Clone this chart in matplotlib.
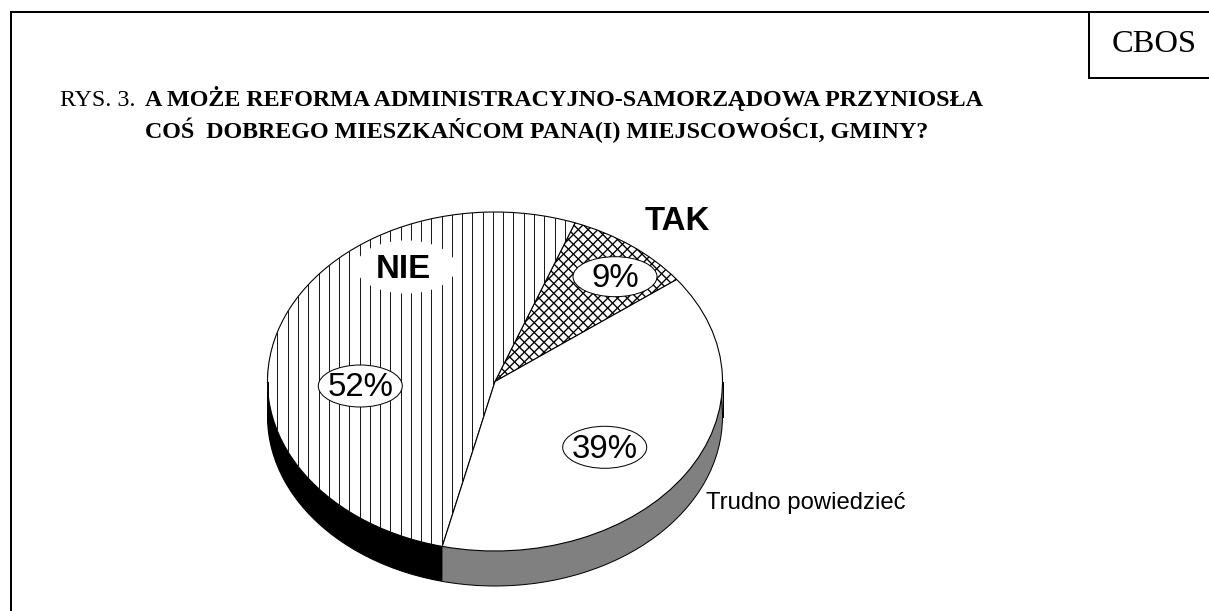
import matplotlib
matplotlib.use("Agg")
import matplotlib.pyplot as plt
import numpy as np
from matplotlib.patches import Ellipse

# Data
categories = ["TAK", "NIE", "Trudno powiedzieć"]
values = [9, 52, 39]
pct_labels = ["9%", "52%", "39%"]
title_prefix = "RYS. 3."
title_line1 = "A MOŻE REFORMA ADMINISTRACYJNO-SAMORZĄDOWA PRZYNIOSŁA"
title_line2 = "COŚ  DOBREGO MIESZKAŃCOM PANA(I) MIEJSCOWOŚCI, GMINY?"
source = "CBOS"

# Style / layout
W, H, DPI = 1209, 611, 100
pt = 72 / DPI  # one pixel in points
SERIF, SANS = "Liberation Serif", "Liberation Sans"
face = ["white", "white", "white"]
wall = ["#808080", "black", "#808080"]
START = 37
CX, CY, RX, RY, DEPTH = 495, 381.5, 227.5, 169.5, 35
STRIPE_STEP, STRIPE_PHASE = 10.26, 349.3
CROSS_STEP = 9.8

fig = plt.figure(figsize=(W / DPI, H / DPI), dpi=DPI, facecolor="white")

# Pie axes: unit circle stretched into the perspective ellipse
pax = fig.add_axes([(CX - RX) / W, 1 - (CY + RY) / H, 2 * RX / W, 2 * RY / H])
d = DEPTH / RY
for i in range(DEPTH, 0, -1):
    pax.pie(values, colors=wall, startangle=START, radius=1, center=(0, -d * i / DEPTH),
            wedgeprops=dict(linewidth=0, edgecolor="none", clip_on=False))
pax.pie([1], colors=["none"], center=(0, -d),
        wedgeprops=dict(linewidth=1.0 * pt, edgecolor="black", clip_on=False))
pax.plot([1, 1], [0, -d], color="black", lw=1.0 * pt, clip_on=False)
pax.plot([-1, -1], [0, -d], color="black", lw=1.0 * pt, clip_on=False)
wedges, _ = pax.pie(values, colors=face, startangle=START, radius=1,
                    wedgeprops=dict(linewidth=1.1 * pt, edgecolor="black", clip_on=False))
pax.set_aspect("auto")
pax.set_xlim(-1, 1)
pax.set_ylim(-1, 1)

# Overlay in pixel coordinates for hatching, frame and text
ax = fig.add_axes([0, 0, 1, 1], facecolor="none")
ax.set_xlim(0, W)
ax.set_ylim(H, 0)
ax.axis("off")

# Hatching: vertical stripes for NIE, diagonal cross for TAK
for x in np.arange(STRIPE_PHASE - 10 * STRIPE_STEP, CX + 120, STRIPE_STEP):
    ln, = ax.plot([x, x], [CY - RY, CY + RY], color="#1a1a1a", lw=1.0 * pt, zorder=2)
    ln.set_clip_path(wedges[1])
for k in np.arange(-30, 31):
    c = k * CROSS_STEP
    for s in (1, -1):
        ln, = ax.plot([CX - 300, CX + 300], [CY + c + s * 300, CY + c - s * 300],
                      color="#000000", lw=1.35 * pt, zorder=2)
        ln.set_clip_path(wedges[0])

lw = 2 * pt
ax.plot([10.5, 10.5, W], [H, 12, 12], color="black", lw=lw, solid_joinstyle="miter", clip_on=False)
ax.plot([1089, 1089, W], [12, 78, 78], color="black", lw=lw, solid_joinstyle="miter", clip_on=False)

ax.text(1154.5, 45, source, family=SERIF, fontsize=32.5 * pt, ha="center", va="center")
ax.text(60, 106, title_prefix, family=SERIF, fontsize=24 * pt, ha="left", va="baseline")
ax.text(145, 106, title_line1, family=SERIF, weight="bold", fontsize=24.1 * pt, ha="left", va="baseline")
ax.text(145, 138, title_line2, family=SERIF, weight="bold", fontsize=24 * pt, ha="left", va="baseline")

ax.text(677, 221.5, categories[0], family=SANS, weight="bold", fontsize=33 * pt, ha="center", va="center", zorder=5)
ax.add_patch(Ellipse((406, 267), 100, 53, fc="white", ec="none", zorder=3))
ax.text(403.5, 269.5, categories[1], family=SANS, weight="bold", fontsize=33 * pt, ha="center", va="center", zorder=5)
ax.text(706, 503.5, categories[2], family=SANS, fontsize=23.9 * pt, ha="left", va="center", zorder=5)

for (x, y), (ew, eh), s in zip([(615, 276.7), (360.3, 386), (604.7, 447.3)],
                               [(84, 40), (84, 42), (84, 42)], pct_labels):
    ax.add_patch(Ellipse((x, y), ew, eh, fc="white", ec="black", lw=1.0 * pt, zorder=3))
    ax.text(x, y + 2, s, family=SANS, fontsize=33 * pt, ha="center", va="center", zorder=5)

fig.savefig("out.png", dpi=DPI)
